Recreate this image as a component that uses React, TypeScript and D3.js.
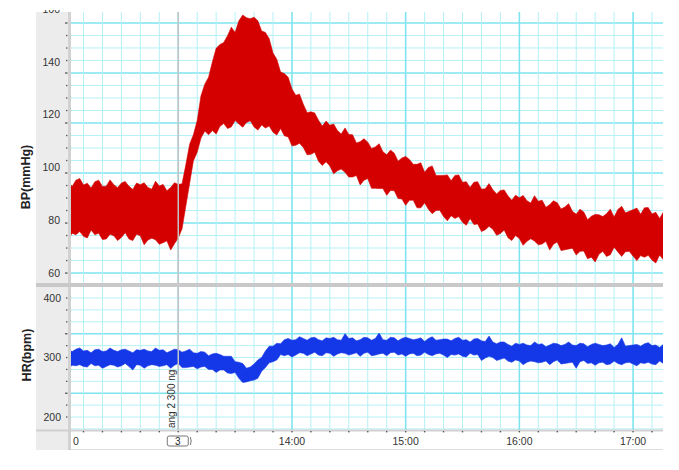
import React from 'react';
import * as d3 from 'd3';

const W = 679;
const H = 470;

// sample times in minutes after 12:00, one every 2 minutes
const sampleMinutes = d3.range(2, 317, 2);

// blood pressure envelope (mmHg), one row = 20 min
const bpUpper = [
  94.6, 92.8, 95.2, 95.8, 93.4, 94, 92.2, 94.6, 95.2, 92.8,
  92.9, 95.3, 93.5, 92.3, 94.1, 94.7, 92.9, 91.7, 94.1, 93.5,
  94.2, 92.4, 91.8, 94.8, 93, 93.6, 91.2, 92.4, 94.2, 93.6,
  93.8, 101, 108.8, 112.4, 117.8, 127.2, 131.6, 134.2, 140, 145.2,
  146.6, 147.4, 150, 153.2, 151.2, 155.6, 157.8, 156.8, 156.4, 157,
  155.6, 151.8, 151.2, 148.8, 143.4, 141, 136.2, 135.6, 134.2, 129.8,
  127.4, 127.8, 124, 120.8, 121.1, 120.7, 117.9, 115.7, 117.6, 116,
  116.5, 114, 112.7, 115, 112.5, 112.4, 109.3, 109.8, 110.9, 109.6,
  107.2, 107.8, 109, 106, 104.8, 106.6, 105.4, 102.4, 103.6, 104.2,
  103, 101.2, 101.2, 101.8, 98.2, 100, 100.6, 97, 97, 97,
  97.2, 95, 97, 97.2, 94.4, 94.6, 92.4, 94.4, 94.6, 91.8,
  91.9, 93.9, 91.6, 90, 91.3, 91.5, 89.2, 87.6, 89.5, 88.5,
  89.4, 87.4, 86.5, 89.3, 87.2, 87.6, 84.9, 85.9, 87.4, 86.6,
  84.3, 85, 86.3, 83.4, 82.3, 84.2, 83.1, 80.2, 81.5, 82.2,
  82.1, 81.4, 82.5, 84.2, 81.2, 84.1, 85.3, 82.8, 83.4, 84,
  84.6, 82.3, 84.7, 84.8, 82.4, 83, 80.7, 83.1,
];
const bpLower = [
  72.7, 75.1, 74.5, 75.7, 73.9, 73.3, 76.3, 74.5, 75.1, 72.7,
  72.9, 74.7, 74.1, 72.3, 73.5, 75.3, 72.9, 72.3, 74.7, 74.1,
  70.7, 72.5, 73.2, 72.6, 70.9, 71.5, 72.2, 68.7, 71.1, 73.3,
  76.8, 85.4, 94, 102.6, 105.8, 111.2, 113.8, 112.4, 114, 112.7,
  115.6, 116.7, 114.8, 115.4, 117.8, 116.5, 115.3, 117.1, 117.7, 115.4,
  114.2, 116.1, 115, 115.7, 113.4, 112.3, 114.8, 112, 111.6, 108.2,
  108.4, 109.2, 107.6, 104.8, 105, 105.8, 102.4, 100.8, 102.2, 100.6,
  97.6, 98.8, 99.4, 98.2, 96.4, 96.4, 97, 93.4, 95.2, 95.8,
  92.1, 92.1, 92, 92, 89.5, 91.3, 91.2, 88.2, 88.1, 85.7,
  87.6, 87.6, 84.7, 84.7, 86.6, 84.2, 82.5, 83.7, 83.8, 81.4,
  79.8, 81.7, 80.7, 81.4, 79.2, 78.1, 80.7, 78.4, 78.6, 75.7,
  76.4, 77.7, 76.6, 74.3, 75, 76.3, 73.4, 72.3, 74.2, 73.1,
  70.5, 72, 73, 72.1, 70.7, 71, 72, 68.7, 70.9, 71.8,
  68.5, 68.8, 69.1, 69.4, 66.8, 68.2, 68.3, 65.4, 66, 64.2,
  67.1, 68.2, 66.3, 66.9, 69.8, 68, 66.3, 68.1, 68.2, 66.4,
  64.7, 66.6, 66, 66.7, 64.9, 63.8, 66.8, 65,
];

// heart rate envelope (bpm)
const hrUpper = [
  313, 310, 314, 316, 311, 312, 308, 313, 314, 310,
  311, 316, 312, 310, 313, 314, 311, 308, 313, 312,
  314, 311, 310, 316, 312, 313, 308, 311, 314, 313,
  309, 311, 314, 308, 307, 310, 309, 303, 306, 307,
  305, 302, 302, 302, 293, 292, 290, 282, 284, 289,
  296, 300, 311, 319, 319, 324, 323, 330, 332, 329,
  330, 335, 332, 329, 333, 334, 330, 328, 333, 332,
  334, 330, 329, 340, 332, 333, 328, 330, 334, 333,
  329, 332, 341, 330, 329, 334, 333, 328, 332, 334,
  332, 330, 331, 333, 327, 332, 335, 329, 330, 331,
  331, 328, 332, 334, 329, 330, 326, 331, 332, 328,
  327, 336, 326, 323, 326, 326, 322, 319, 324, 322,
  324, 321, 320, 326, 322, 323, 318, 321, 324, 323,
  320, 322, 326, 321, 320, 324, 323, 318, 322, 324,
  322, 320, 321, 323, 317, 322, 333, 319, 320, 321,
  322, 319, 323, 325, 320, 321, 317, 322,
];
const hrLower = [
  282, 287, 286, 288, 285, 284, 290, 286, 287, 282,
  285, 288, 287, 284, 286, 290, 285, 279, 288, 287,
  282, 286, 288, 287, 285, 286, 288, 282, 287, 290,
  283, 283, 284, 285, 281, 284, 285, 280, 280, 275,
  279, 279, 274, 273, 275, 265, 258, 259, 261, 262,
  265, 277, 283, 291, 293, 296, 305, 303, 305, 301,
  304, 308, 307, 303, 306, 309, 304, 303, 308, 307,
  302, 306, 308, 307, 304, 306, 308, 302, 307, 309,
  303, 304, 306, 307, 303, 308, 309, 304, 306, 302,
  306, 307, 303, 304, 309, 305, 303, 306, 307, 304,
  300, 305, 304, 306, 302, 301, 307, 304, 305, 295,
  299, 302, 300, 295, 297, 299, 294, 292, 296, 294,
  288, 292, 294, 293, 291, 292, 294, 288, 293, 296,
  289, 290, 291, 292, 282, 293, 295, 290, 291, 287,
  291, 292, 288, 289, 294, 290, 288, 291, 292, 289,
  286, 291, 290, 292, 289, 288, 294, 290,
];

const bpTicks = [60, 80, 100, 120, 140, 160];
const hrTicks = [200, 300, 400];
const hourTicks = [14, 15, 16, 17];
const eventMinute = 60;
const eventLabel = 'ang 2 300 ng';
const markerLabel = '3';

const at = (min: number) => new Date(2000, 0, 1, 12, 0, min * 60);

const left = 71;
const right = 663;
const topPanel = [12, 283];
const botPanel = [287, 430];

const x = d3.scaleTime().domain([at(3.4), at(315.8)]).range([left, right]);
const yBP = d3.scaleLinear().domain([60, 140]).range([273, 62]);
const yHR = d3.scaleLinear().domain([200, 400]).range([417, 298]);

// chart recorder grid: top panel divisions of 4.74 mmHg from 60, bottom 20 bpm
const bpGrid = d3.range(0, 21).map(k => ({ v: 60 + k * 4.74, major: k % 4 === 0 }));
const hrGrid = d3.range(180, 421, 20).map(v => ({ v, major: (v - 240) % 100 === 0 }));
const minuteGrid = x.ticks(d3.timeMinute.every(10) as any);

const bpData = sampleMinutes.map((m, i) => ({ t: at(m), hi: bpUpper[i], lo: bpLower[i] }));
const hrData = sampleMinutes.map((m, i) => ({ t: at(m), hi: hrUpper[i], lo: hrLower[i] }));

const bpArea = d3.area<any>().x(d => x(d.t)).y0(d => yBP(d.lo)).y1(d => yBP(d.hi));
const hrArea = d3.area<any>().x(d => x(d.t)).y0(d => yHR(d.lo)).y1(d => yHR(d.hi));

const FONT = '"Liberation Sans", Arial, sans-serif';
const MINOR = '#b4f1f6';
const MAJOR = '#7fe4ef';

export default function App() {
  const ex = x(at(eventMinute));
  return (
    <svg width={W} height={H} style={{ position: 'absolute', left: 0, top: 0, display: 'block', background: '#fff' }}>
      <defs>
        <clipPath id="clipTop"><rect x={left} y={topPanel[0]} width={right - left} height={topPanel[1] - topPanel[0]} /></clipPath>
        <clipPath id="clipBot"><rect x={left} y={botPanel[0]} width={right - left} height={botPanel[1] - botPanel[0]} /></clipPath>
        <clipPath id="clipLab"><rect x={0} y={10} width={left} height={H} /></clipPath>
      </defs>

      {/* left axis band */}
      <rect x={36} y={12} width={33} height={438} fill="#ececec" />
      <rect x={68} y={12} width={3} height={438} fill="#d2d2d2" />

      {/* grid top */}
      <g clipPath="url(#clipTop)">
        {bpGrid.map((g, i) => (
          <line key={'bg' + i} x1={left} x2={right} y1={yBP(g.v)} y2={yBP(g.v)}
            stroke={g.major ? MAJOR : MINOR} strokeWidth={g.major ? 1.6 : 1} />
        ))}
        {minuteGrid.map((t, i) => {
          const major = t.getMinutes() === 0;
          return <line key={'bv' + i} x1={x(t)} x2={x(t)} y1={topPanel[0]} y2={topPanel[1]}
            stroke={major ? MAJOR : MINOR} strokeWidth={major ? 1.6 : 1} />;
        })}
        <path d={bpArea(bpData) || ''} fill="#d40000" stroke="#d40000" strokeWidth={0.6} />
      </g>

      {/* grid bottom */}
      <g clipPath="url(#clipBot)">
        {hrGrid.map((g, i) => (
          <line key={'hg' + i} x1={left} x2={right} y1={yHR(g.v)} y2={yHR(g.v)}
            stroke={g.major ? MAJOR : MINOR} strokeWidth={g.major ? 1.6 : 1} />
        ))}
        {minuteGrid.map((t, i) => {
          const major = t.getMinutes() === 0;
          return <line key={'hv' + i} x1={x(t)} x2={x(t)} y1={botPanel[0]} y2={botPanel[1]}
            stroke={major ? MAJOR : MINOR} strokeWidth={major ? 1.6 : 1} />;
        })}
        <path d={hrArea(hrData) || ''} fill="#1438e8" stroke="#1438e8" strokeWidth={0.6} />
      </g>

      {/* event line */}
      <line x1={ex} x2={ex} y1={topPanel[0]} y2={botPanel[1]} stroke="#c4c4c4" strokeWidth={1.5} />

      {/* panel divider and axis lines */}
      <rect x={36} y={283} width={right - 36} height={4} fill="#c9c9c9" />
      <rect x={36} y={429.5} width={right - 36} height={2} fill="#d0d0d0" />
      <line x1={left} x2={right} y1={449.5} y2={449.5} stroke="#dedede" />

      {/* y tick dots */}
      {bpGrid.map((g, i) => (
        <rect key={'bd' + i} x={g.major ? 65 : 66} y={yBP(g.v) - 0.6} width={g.major ? 2.5 : 1.4} height={1.3} fill="#555" />
      ))}
      {hrGrid.filter(g => g.v >= 200 && g.v <= 410).map((g, i) => (
        <rect key={'hd' + i} x={g.major ? 65 : 66} y={yHR(g.v) - 0.6} width={g.major ? 2.5 : 1.4} height={1.3} fill="#555" />
      ))}

      {/* y labels */}
      <g clipPath="url(#clipLab)" fontFamily={FONT} fontSize={10.5} fill="#333" textAnchor="end">
        {bpTicks.map(v => (
          <text key={'bl' + v} x={60} y={yBP(v)} dy="0.35em">{v}</text>
        ))}
        {hrTicks.map(v => (
          <text key={'hl' + v} x={61} y={yHR(v)} dy="0.35em">{v}</text>
        ))}
      </g>

      {/* axis titles */}
      <text transform="translate(30,177) rotate(-90)" textAnchor="middle" fontFamily={FONT}
        fontWeight="bold" fontSize={12.5} fill="#222">BP(mmHg)</text>
      <text transform="translate(31,355) rotate(-90)" textAnchor="middle" fontFamily={FONT}
        fontWeight="bold" fontSize={12.5} fill="#222">HR(bpm)</text>

      {/* x axis ticks and labels */}
      {minuteGrid.map((t, i) => (
        <rect key={'xd' + i} x={x(t) - 0.7} y={431} width={1.4} height={1.4} fill="#555" />
      ))}
      <g fontFamily={FONT} fontSize={10.5} fill="#333">
        <text x={left + 2} y={445}>0</text>
        {hourTicks.map(h => (
          <text key={'xl' + h} x={x(at((h - 12) * 60))} y={445} textAnchor="middle">{`${h}:00`}</text>
        ))}
      </g>

      {/* event annotation */}
      <text transform={`translate(${ex - 3},428) rotate(-90)`} fontFamily={FONT} fontSize={10} fill="#333">{eventLabel}</text>
      <rect x={ex - 11} y={436} width={21} height={10} rx={2} fill="#fff" stroke="#777" />
      <text x={ex - 0.5} y={445} textAnchor="middle" fontFamily={FONT} fontSize={10} fill="#222">{markerLabel}</text>
      <path d={`M${ex + 12},437 Q${ex + 14},441 ${ex + 12},445`} fill="none" stroke="#777" />
    </svg>
  );
}
